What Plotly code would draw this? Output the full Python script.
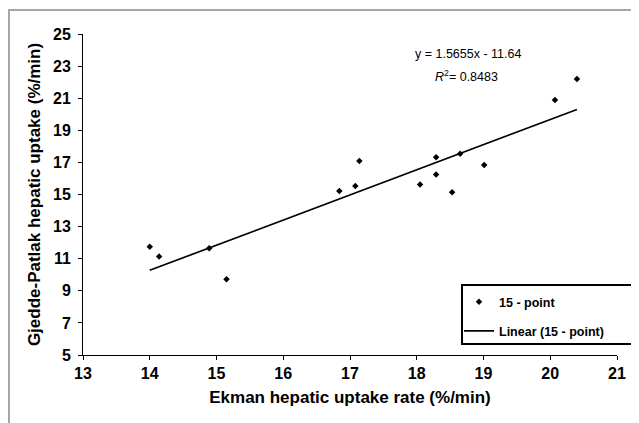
import plotly.graph_objects as go

# Data
ekman = [14.00, 14.14, 14.89, 15.15, 16.84, 17.08, 17.14, 18.05, 18.29, 18.29, 18.53, 18.65, 19.01, 20.07, 20.40]
patlak = [11.75, 11.13, 11.65, 9.72, 15.22, 15.53, 17.09, 15.63, 16.24, 17.32, 15.14, 17.54, 16.84, 20.89, 22.20]
slope = 1.5655
intercept = -11.64
r2 = 0.8483
x_ticks = [13, 14, 15, 16, 17, 18, 19, 20, 21]
y_ticks = [5, 7, 9, 11, 13, 15, 17, 19, 21, 23, 25]

FONT = "Liberation Sans, Arial, sans-serif"

x_line = [min(ekman), max(ekman)]
y_line = [slope * v + intercept for v in x_line]

fig = go.Figure()
fig.add_trace(go.Scatter(
    x=ekman, y=patlak, mode="markers", name="<b>15 - point</b>",
    marker=dict(symbol="diamond", size=5, color="black"),
    legendgroup="a",
))
fig.add_trace(go.Scatter(
    x=x_line, y=y_line, mode="lines", name="<b>Linear (15 - point)</b>",
    line=dict(color="black", width=1.7),
    legendgroup="b",
))

# page body has an 8px offset; work in page pixels and convert
OFF = 8
W, H = 639 - OFF, 423 - OFF
L, R, T, B = 83 - OFF, 22, 34 - OFF, 68
pw, ph = W - L - R, H - T - B

def px_x(p):
    return (p - OFF - L) / pw

def px_y(p):
    return (H - B - (p - OFF)) / ph

fig.update_layout(
    width=W, height=H,
    margin=dict(l=L, r=R, t=T, b=B, pad=0),
    paper_bgcolor="white", plot_bgcolor="white",
    font=dict(family=FONT, color="black"),
    showlegend=True,
    legend=dict(
        x=px_x(459), y=px_y(287), xanchor="left", yanchor="top",
        borderwidth=0, bgcolor="rgba(0,0,0,0)",
        font=dict(size=12.5, family=FONT),
        tracegroupgap=10, traceorder="grouped",
    ),
    xaxis=dict(
        range=[13, 21], tickvals=x_ticks, ticktext=[f"<b>{v}</b>" for v in x_ticks],
        showgrid=False, zeroline=False, showline=True, linecolor="black", linewidth=1,
        ticks="outside", ticklen=4, tickcolor="black",
        tickfont=dict(size=16, family=FONT, weight=700),
        title=dict(text="<b>Ekman hepatic uptake rate (%/min)</b>",
                   font=dict(size=17, family=FONT), standoff=9),
        automargin=False,
    ),
    yaxis=dict(
        range=[5, 25], tickvals=y_ticks, ticktext=[f"<b>{v}</b>" for v in y_ticks],
        showgrid=False, zeroline=False, showline=True, linecolor="black", linewidth=1,
        ticks="outside", ticklen=4, tickcolor="black",
        tickfont=dict(size=16, family=FONT, weight=700),
        ticklabelstandoff=4,
        title=dict(text="<b>Gjedde-Patlak hepatic uptake (%/min)</b>",
                   font=dict(size=17, family=FONT), standoff=8),
        automargin=False,
    ),
    annotations=[
        dict(x=px_x(468), y=px_y(54), xref="paper", yref="paper",
             text=f"y = {slope}x - {abs(intercept)}", showarrow=False,
             font=dict(size=12.5, family=FONT), xanchor="center", yanchor="middle"),
        dict(x=px_x(466), y=px_y(76), xref="paper", yref="paper",
             text=f"<i>R</i><sup>2</sup>= {r2}", showarrow=False,
             font=dict(size=12.5, family=FONT), xanchor="center", yanchor="middle"),
    ],
    shapes=[
        dict(type="rect", xref="paper", yref="paper",
             x0=px_x(9), x1=px_x(660), y0=px_y(440), y1=px_y(10),
             line=dict(color="#a6a6a6", width=2), layer="below"),
        dict(type="rect", xref="paper", yref="paper",
             x0=px_x(462), x1=px_x(634), y0=px_y(344), y1=px_y(285),
             line=dict(color="black", width=2), fillcolor="rgba(0,0,0,0)"),
    ],
)

fig.write_html("out.html")
